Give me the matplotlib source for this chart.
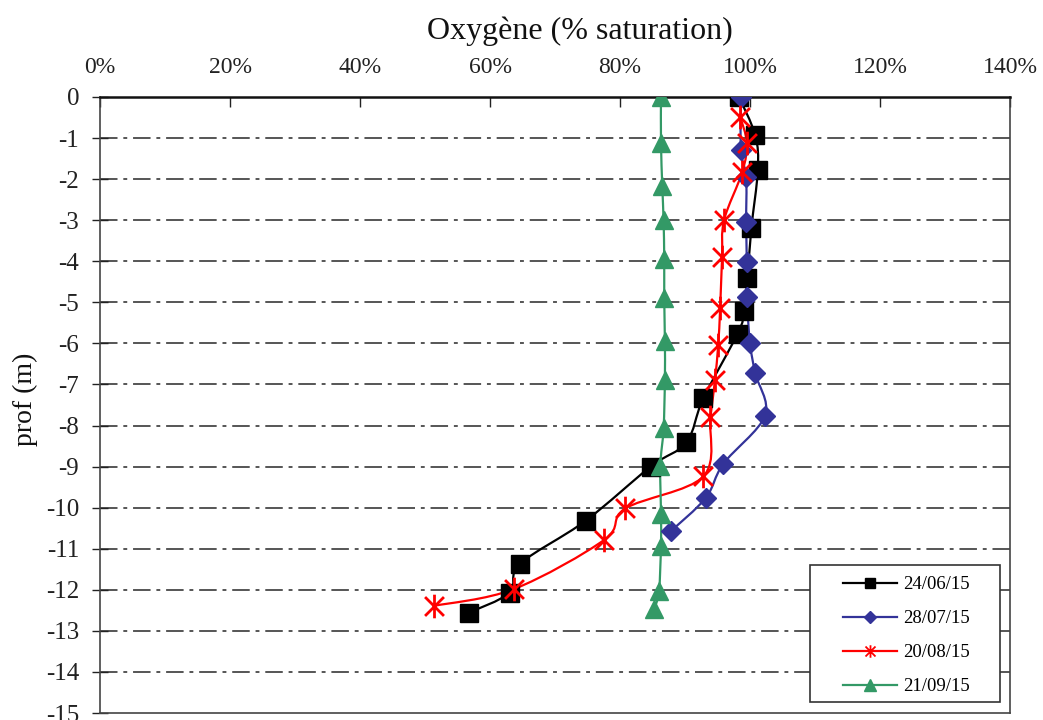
import matplotlib
matplotlib.use("Agg")
import matplotlib.pyplot as plt
from matplotlib.path import Path
from matplotlib.patches import PathPatch, Rectangle
from matplotlib.lines import Line2D
from matplotlib.ticker import FuncFormatter
import numpy as np

plt.rcParams['font.family'] = ['Liberation Serif', 'DejaVu Serif']

# ---- data ----
labels = ["24/06/15", "28/07/15", "20/08/15", "21/09/15"]

depth_0624 = [0, -0.93, -1.78, -3.2, -4.41, -5.22, -5.76, -7.34, -8.41, -9.0, -10.32, -11.37, -12.07, -12.56]
oxy_0624 = [98.3, 100.8, 101.2, 100.2, 99.6, 99.1, 98.1, 92.8, 90.2, 84.7, 74.7, 64.6, 63.0, 56.7]

depth_0728 = [0, -1.3, -1.95, -3.05, -4.02, -4.88, -6.0, -6.73, -7.76, -8.93, -9.76, -10.56]
oxy_0728 = [98.6, 98.6, 99.4, 99.4, 99.5, 99.5, 100.0, 100.8, 102.3, 95.9, 93.2, 87.9]

depth_0820 = [-0.49, -1.12, -1.83, -3.0, -3.9, -5.15, -6.05, -6.9, -7.8, -9.24, -10.02, -10.78, -11.98, -12.39]
oxy_0820 = [98.5, 99.5, 98.8, 96.0, 95.7, 95.4, 95.1, 94.6, 93.9, 92.8, 80.8, 77.6, 63.7, 51.4]

depth_0921 = [0, -1.12, -2.17, -3.0, -3.95, -4.9, -5.93, -6.9, -8.07, -8.98, -10.15, -10.93, -12.02, -12.46]
oxy_0921 = [86.3, 86.3, 86.5, 86.7, 86.8, 86.8, 86.9, 86.9, 86.7, 86.2, 86.3, 86.3, 86.0, 85.3]

x_ticks = [0, 20, 40, 60, 80, 100, 120, 140]
y_ticks = list(range(0, -16, -1))

# Excel-style star marker: an X plus a vertical bar
star = Path([(-1, -1), (1, 1), (-1, 1), (1, -1), (0, -1.25), (0, 1.25)],
            [Path.MOVETO, Path.LINETO, Path.MOVETO, Path.LINETO, Path.MOVETO, Path.LINETO])

series = [
    (oxy_0624, depth_0624, "#000000", "s", 13, 7, 1.0),
    (oxy_0728, depth_0728, "#333399", "D", 10, 6, 1.0),
    (oxy_0820, depth_0820, "#FF0000", star, 17, 9, 2.0),
    (oxy_0921, depth_0921, "#339966", "^", 13, 8, 1.0),
]


def smooth_path(x, y):
    """Excel-like smoothed line as cubic Bezier path through the points."""
    pts = np.column_stack([x, y]).astype(float)
    n = len(pts)
    verts = [pts[0]]
    codes = [Path.MOVETO]
    for i in range(n - 1):
        p0 = pts[i - 1] if i > 0 else pts[i]
        p1 = pts[i]
        p2 = pts[i + 1]
        p3 = pts[i + 2] if i + 2 < n else pts[i + 1]
        c1 = p1 + (p2 - p0) / 6.0
        c2 = p2 - (p3 - p1) / 6.0
        verts += [c1, c2, p2]
        codes += [Path.CURVE4] * 3
    return Path(verts, codes)


fig = plt.figure(figsize=(10.43, 7.20), dpi=100)
ax = fig.add_axes([0.0959, 0.0097, 0.8725, 0.8556])

handles = []
for xs, ys, col, mk, ms, lms, mew in series:
    ax.add_patch(PathPatch(smooth_path(xs, ys), facecolor="none",
                           edgecolor=col, lw=1.6, zorder=3))
    ax.plot(xs, ys, ls="none", marker=mk, ms=ms, color=col,
            mec=col, mew=mew, zorder=4)
    handles.append(Line2D([], [], color=col, lw=1.6, marker=mk, ms=lms,
                          mew=min(mew, 1.3), mec=col))

ax.set_xlim(0, 140)
ax.set_ylim(-15, 0)
ax.set_xticks(x_ticks)
ax.set_yticks(y_ticks)
ax.xaxis.set_major_formatter(FuncFormatter(lambda v, p: f"{v:.0f}%"))
ax.yaxis.set_major_formatter(FuncFormatter(lambda v, p: f"{v:.0f}".replace("\u2212", "-")))

ax.xaxis.tick_top()
ax.tick_params(axis="x", direction="in", length=7, width=1, pad=14,
               labelsize=17, colors="#222222", top=True, bottom=False)
ax.tick_params(axis="y", direction="inout", length=12, width=1, pad=9,
               labelsize=18, colors="#222222", right=False)

for v in y_ticks[1:-1]:
    ax.axhline(v, color="#555555", lw=1.4, ls=(0, (9, 3, 2, 3)), zorder=1)

for side in ["left", "right", "bottom"]:
    ax.spines[side].set_color("#444444")
    ax.spines[side].set_linewidth(1.2)
ax.spines["top"].set_color("#111111")
ax.spines["top"].set_linewidth(1.8)

fig.text(0.556, 0.957, "Oxygène (% saturation)", fontsize=23,
         ha="center", va="center", color="#111111")
ax.set_ylabel("prof (m)", fontsize=20, labelpad=12, color="#111111")
ax.yaxis.set_label_coords(-0.068, 0.51)

# legend frame and entries
ax.add_patch(Rectangle((0.7802, 0.0179), 0.2088, 0.2224, transform=ax.transAxes,
                       facecolor="white", edgecolor="#333333", lw=1.2, zorder=5))
leg = ax.legend(handles, labels, loc="upper left",
                bbox_to_anchor=(0.8165, 0.2224), fontsize=13.5,
                frameon=False, handlelength=2.9, labelspacing=0.9,
                borderpad=0, handletextpad=0.3, borderaxespad=0)
leg.set_zorder(6)

fig.savefig("out.png", dpi=100)
